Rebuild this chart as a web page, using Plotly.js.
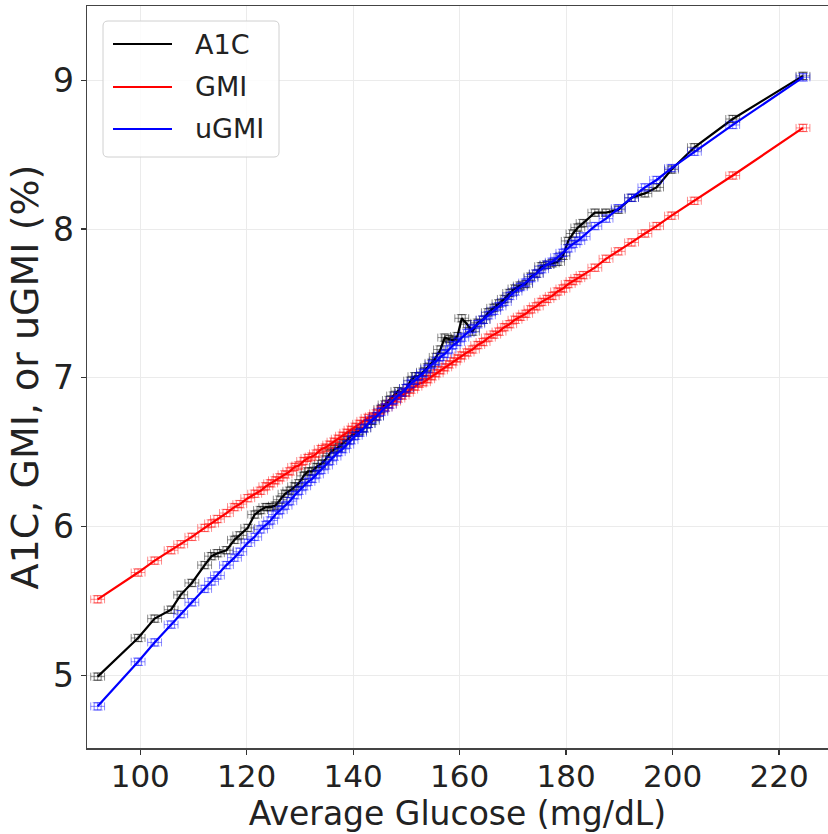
<!DOCTYPE html>
<html><head><meta charset="utf-8">
<script src="https://cdn.plot.ly/plotly-3.0.1.min.js"></script>
<style>html,body{margin:0;padding:0;background:#fff;} #chart{width:828px;height:834px;}</style>
</head><body><div id="chart"></div>
<script>
// ---- data ----
const glucose = [92,99.6,102.7,105.8,107.6,109.7,112.1,113.4,114.5,116.2,117.7,118.7,120.2,121.5,122.6,123.6,124.5,125.4,126.3,127.2,128.1,129.0,129.8,130.7,131.5,132.3,133.1,134.0,134.8,135.6,136.4,137.2,138.0,138.8,139.6,140.4,141.2,142.0,142.8,143.6,144.4,145.2,146.0,146.8,147.6,148.4,149.2,150.0,150.8,151.6,152.4,153.2,154.0,154.8,155.6,156.4,157.2,158.0,158.8,159.6,160.4,161.4,162.4,163.4,164.4,165.4,166.4,167.4,168.4,169.4,170.4,171.4,172.4,173.4,174.4,175.4,176.4,177.4,178.4,179.4,180.4,181.3,182.2,183.2,185.4,187.5,189.8,192.3,194.8,197.0,199.8,204.1,211.3,224.5];
const a1c = [4.99,5.25,5.38,5.44,5.54,5.62,5.74,5.80,5.82,5.84,5.91,5.94,5.99,6.08,6.11,6.13,6.13,6.14,6.18,6.22,6.24,6.27,6.29,6.34,6.37,6.37,6.40,6.42,6.45,6.49,6.52,6.53,6.56,6.58,6.61,6.63,6.64,6.66,6.69,6.71,6.74,6.79,6.82,6.85,6.88,6.91,6.90,6.93,6.98,7.01,7.01,7.04,7.07,7.10,7.14,7.19,7.27,7.26,7.25,7.28,7.40,7.36,7.31,7.37,7.39,7.44,7.47,7.50,7.53,7.57,7.60,7.62,7.63,7.68,7.70,7.75,7.76,7.77,7.78,7.82,7.92,7.97,8.01,8.04,8.11,8.11,8.13,8.21,8.24,8.28,8.40,8.55,8.74,9.03];
const gmi = [5.51,5.69,5.77,5.84,5.88,5.93,5.99,6.02,6.05,6.09,6.13,6.15,6.19,6.22,6.24,6.27,6.29,6.31,6.33,6.35,6.37,6.40,6.41,6.44,6.46,6.47,6.49,6.52,6.53,6.55,6.57,6.59,6.61,6.63,6.65,6.67,6.69,6.71,6.73,6.74,6.76,6.78,6.80,6.82,6.84,6.86,6.88,6.90,6.92,6.94,6.96,6.97,6.99,7.01,7.03,7.05,7.07,7.09,7.11,7.13,7.15,7.17,7.19,7.22,7.24,7.27,7.29,7.31,7.34,7.36,7.39,7.41,7.43,7.46,7.48,7.51,7.53,7.55,7.58,7.60,7.63,7.65,7.67,7.69,7.74,7.80,7.85,7.91,7.97,8.02,8.09,8.19,8.36,8.68];
const ugmi = [4.79,5.09,5.22,5.34,5.41,5.49,5.58,5.63,5.67,5.74,5.79,5.83,5.89,5.93,5.98,6.01,6.04,6.08,6.11,6.14,6.17,6.21,6.24,6.27,6.30,6.32,6.35,6.38,6.41,6.44,6.47,6.50,6.52,6.55,6.58,6.61,6.63,6.66,6.69,6.72,6.74,6.77,6.80,6.82,6.85,6.88,6.90,6.93,6.96,6.98,7.01,7.03,7.06,7.09,7.11,7.14,7.16,7.19,7.22,7.24,7.27,7.30,7.33,7.36,7.39,7.42,7.45,7.48,7.51,7.55,7.58,7.61,7.64,7.67,7.70,7.73,7.76,7.78,7.81,7.84,7.87,7.90,7.92,7.95,8.02,8.07,8.14,8.21,8.28,8.33,8.41,8.52,8.70,9.02];
const seriesNames = ['A1C','GMI','uGMI'];
const seriesColors = ['#000000','#ff0000','#0000ff'];
const xTickVals = [100,120,140,160,180,200,220];
const yTickVals = [5,6,7,8,9];
const xTitle = 'Average Glucose (mg/dL)';
const yTitle = 'A1C, GMI, or uGMI (%)';

// ---- layout geometry (pixels) ----
const W = 828, H = 834;
const M = {l: 87, r: 0, t: 6, b: 86};
const PW = W - M.l - M.r, PH = H - M.t - M.b;
const px = x => (x - M.l) / PW;
const py = y => (M.t + PH - y) / PH;

function rgba(hex, a){
  const n = parseInt(hex.slice(1),16);
  return `rgba(${(n>>16)&255},${(n>>8)&255},${n&255},${a})`;
}

const ys = [a1c, gmi, ugmi];
const traces = ys.map((yv, i) => ({
  type: 'scatter', mode: 'lines+markers', name: seriesNames[i],
  x: glucose, y: yv, showlegend: false,
  line: {color: seriesColors[i], width: 2.2},
  marker: {symbol: 'square-open', size: 7, color: rgba(seriesColors[i], 0.5), line: {width: 1, color: rgba(seriesColors[i], 0.5)}},
  error_x: {type: 'constant', value: 1.3, thickness: 1, width: 4, color: rgba(seriesColors[i], 0.45)},
  error_y: {type: 'constant', value: 0.025, thickness: 1, width: 5, color: rgba(seriesColors[i], 0.45)}
}));

// custom legend (matplotlib-like)
const lg = {x0: 103, x1: 279, y0: 21, y1: 157, r: 5};
function roundRect(x0, y0, x1, y1, r){
  const rx = r / PW, ry = r / PH;
  const X0 = px(x0), X1 = px(x1), Y0 = py(y0), Y1 = py(y1);
  return `M ${X0+rx},${Y0} L ${X1-rx},${Y0} Q ${X1},${Y0} ${X1},${Y0-ry} L ${X1},${Y1+ry} Q ${X1},${Y1} ${X1-rx},${Y1} L ${X0+rx},${Y1} Q ${X0},${Y1} ${X0},${Y1+ry} L ${X0},${Y0-ry} Q ${X0},${Y0} ${X0+rx},${Y0} Z`;
}
const shapes = [{type: 'path', xref: 'paper', yref: 'paper', path: roundRect(lg.x0, lg.y0, lg.x1, lg.y1, lg.r),
  fillcolor: 'rgba(255,255,255,0.85)', line: {color: '#d0d0d0', width: 1}, layer: 'above'}];
const annotations = [];
const rowY = [44, 87, 129];
seriesNames.forEach((nm, i) => {
  shapes.push({type: 'line', xref: 'paper', yref: 'paper', x0: px(113), x1: px(172), y0: py(rowY[i]), y1: py(rowY[i]),
    line: {color: seriesColors[i], width: 2.2}, layer: 'above'});
  annotations.push({xref: 'paper', yref: 'paper', x: px(193), y: py(rowY[i]), xanchor: 'left', yanchor: 'middle',
    text: nm, showarrow: false, font: {family: 'DejaVu Sans', size: 27, color: '#222'}});
});

const layout = {
  width: W, height: H, margin: M, paper_bgcolor: '#fff', plot_bgcolor: '#fff',
  font: {family: 'DejaVu Sans', color: '#222'},
  xaxis: {range: [90.0, 229.2], tickvals: xTickVals, ticks: 'outside', ticklen: 5, tickwidth: 1.2, tickcolor: '#333',
    ticklabelstandoff: -5,
    showline: true, linecolor: '#444', linewidth: 1.5, mirror: true, showgrid: true, gridcolor: '#ebebeb', gridwidth: 1,
    zeroline: false, tickfont: {size: 31, color: '#222'},
    title: {text: xTitle, font: {size: 33, color: '#222'}, standoff: 9}},
  yaxis: {range: [4.51, 9.50], tickvals: yTickVals, ticks: 'outside', ticklen: 5, tickwidth: 1.2, tickcolor: '#333',
    showline: true, linecolor: '#444', linewidth: 1.5, mirror: false, showgrid: true, gridcolor: '#ebebeb', gridwidth: 1,
    zeroline: false, tickfont: {size: 33, color: '#222'},
    title: {text: yTitle, font: {size: 38, color: '#222'}, standoff: 2}},
  shapes: shapes, annotations: annotations, showlegend: false
};

Plotly.newPlot('chart', traces, layout, {displayModeBar: false, staticPlot: true});
</script></body></html>
